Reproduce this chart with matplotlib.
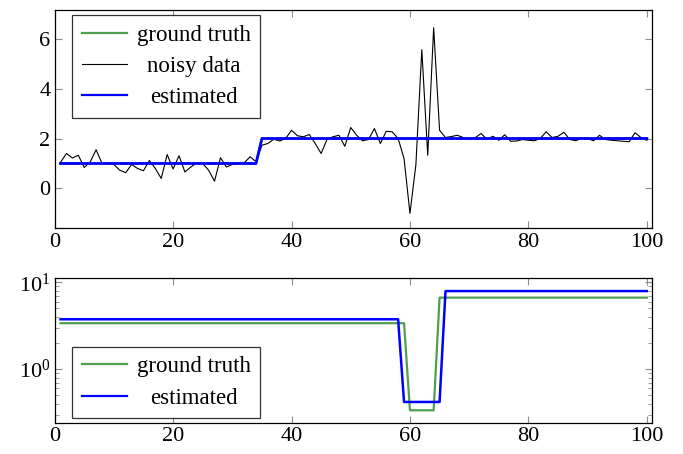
import numpy as np
import matplotlib
matplotlib.use('Agg')
from matplotlib import pyplot as plt
from matplotlib.ticker import LogLocator, NullFormatter

plt.rcParams['font.family'] = ['Liberation Serif', 'DejaVu Serif']
plt.rcParams['mathtext.fontset'] = 'stix'

# sample index
x = list(range(1, 101))

# top panel: mean
gt_mean = [1.0] * 34 + [2.0] * 66
est_mean = [1.0] * 34 + [2.0] * 66
noisy = [1.05, 1.4, 1.22, 1.33, 0.84, 1.06, 1.55, 1.0, 1.0, 0.96,
         0.73, 0.63, 0.96, 0.8, 0.71, 1.12, 0.8, 0.40, 1.36, 0.78,
         1.31, 0.66, 0.86, 1.02, 1.0, 0.73, 0.29, 1.23, 0.86, 0.96,
         1.0, 1.02, 1.27, 1.07, 1.73, 1.8, 1.97, 1.9, 2.0, 2.33,
         2.11, 2.07, 2.16, 1.8, 1.4, 1.97, 2.07, 2.13, 1.69, 2.44,
         2.13, 1.91, 1.96, 2.4, 1.8, 2.29, 2.27, 2.0, 1.2, -1.0,
         0.95, 5.56, 1.33, 6.44, 2.33, 2.04, 2.08, 2.13, 2.04, 1.96,
         2.03, 2.2, 1.97, 2.09, 1.93, 2.15, 1.89, 1.9, 1.96, 1.93,
         1.91, 2.0, 2.27, 2.04, 2.09, 2.25, 1.96, 1.91, 2.02, 2.0,
         1.91, 2.13, 1.96, 1.93, 1.91, 1.89, 1.87, 2.23, 2.04, 1.93]

# bottom panel: variance (log scale)
gt_var = [3.38] * 59 + [0.337] * 5 + [6.65] * 36
est_var = [3.75] * 58 + [0.42] * 7 + [7.91] * 35

green = '#4f9f4f'
blue = '#0000ff'

fig = plt.figure(figsize=(6.83, 4.54), dpi=100)
ax1 = fig.add_axes([0.080, 0.497, 0.874, 0.481])
ax2 = fig.add_axes([0.080, 0.068, 0.874, 0.319])

ax1.plot(x, gt_mean, color=green, lw=1.6, label='ground truth')
ax1.plot(x, noisy, color='black', lw=0.8, label='noisy data')
ax1.plot(x, est_mean, color=blue, lw=2.0, label='estimated')
ax1.set_ylim(-1.6, 7.15)
ax1.set_yticks([0, 2, 4, 6])

ax2.plot(x, gt_var, color=green, lw=1.6, label='ground truth')
ax2.plot(x, est_var, color=blue, lw=1.8, label='estimated')
ax2.set_yscale('log')
ax2.set_ylim(10 ** -0.62, 10 ** 1.045)
ax2.yaxis.set_major_locator(LogLocator(base=10, numticks=10))
ax2.yaxis.set_minor_locator(LogLocator(base=10, subs=np.arange(2, 10), numticks=20))
ax2.yaxis.set_minor_formatter(NullFormatter())

for ax in (ax1, ax2):
    ax.set_xlim(0, 100.8)
    ax.set_xticks([0, 20, 40, 60, 80, 100])
    ax.tick_params(which='both', direction='in', top=True, right=True,
                   color='0.55', labelsize=16, pad=3)
    ax.tick_params(which='major', length=5)
    ax.tick_params(which='minor', length=3)
    for s in ax.spines.values():
        s.set_linewidth(0.9)

leg_kw = dict(fontsize=16.5, frameon=True, fancybox=False, edgecolor='black',
              handlelength=2.0, handletextpad=0.4, borderpad=0.42,
              labelspacing=0.45, borderaxespad=0)
leg1 = ax1.legend(loc='upper left', bbox_to_anchor=(0.029, 0.977), **leg_kw)
leg2 = ax2.legend(loc='lower left', bbox_to_anchor=(0.029, 0.034), **leg_kw)
for leg in (leg1, leg2):
    leg.get_frame().set_linewidth(0.9)
    for line in leg.get_lines():
        if line.get_color() != 'black':
            line.set_linewidth(1.6)

# centre the legend labels like pgfplots does
fig.canvas.draw()
r = fig.canvas.get_renderer()
for leg in (leg1, leg2):
    texts = leg.get_texts()
    ws = [t.get_window_extent(r).width for t in texts]
    m = max(ws)
    for t, w in zip(texts, ws):
        t.set_x((m - w) / 2)

fig.savefig('out.png', dpi=100)
